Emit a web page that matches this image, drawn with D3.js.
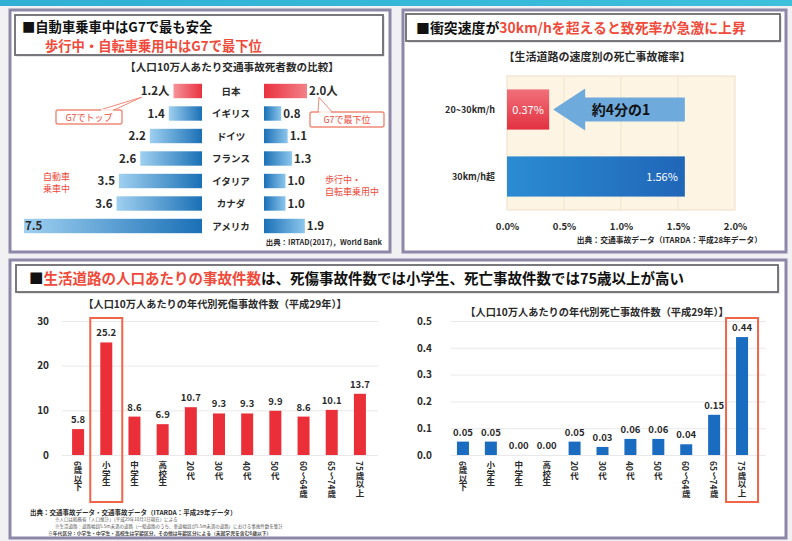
<!DOCTYPE html>
<html><head><meta charset="utf-8">
<script src="https://cdn.jsdelivr.net/npm/d3@7"></script>
<style>
html,body{margin:0;padding:0;background:#f1f1f4;}
svg{display:block;font-family:"Noto Sans CJK JP","Noto Sans",sans-serif;}
</style></head><body>
<svg id="c" width="792" height="541"></svg>
<script>
// ---------- DATA ----------
const countries = ["日本","イギリス","ドイツ","フランス","イタリア","カナダ","アメリカ"];
const carOccupant = [1.2,1.4,2.2,2.6,3.5,3.6,7.5];
const pedCyclist = [2.0,0.8,1.1,1.3,1.0,1.0,1.9];

const speedCats = ["20~30km/h","30km/h超"];
const fatalityRate = [0.37,1.56];
const speedTicks = [0,0.5,1.0,1.5,2.0];

const ageGroups = ["6歳以下","小学生","中学生","高校生","20代","30代","40代","50代","60～64歳","65～74歳","75歳以上"];
const casualtyAccidents = [5.8,25.2,8.6,6.9,10.7,9.3,9.3,9.9,8.6,10.1,13.7];
const fatalAccidents = [0.05,0.05,0.00,0.00,0.05,0.03,0.06,0.06,0.04,0.15,0.44];
const casualtyTicks = [0,10,20,30];
const fatalTicks = [0,0.1,0.2,0.3,0.4,0.5];

// ---------- SETUP ----------
const svg = d3.select("#c");
const defs = svg.append("defs");
function grad(id, x2, y2, stops){
  const g = defs.append("linearGradient").attr("id",id)
    .attr("x1",0).attr("y1",0).attr("x2",x2).attr("y2",y2);
  stops.forEach(s=>g.append("stop").attr("offset",s[0]).attr("stop-color",s[1]));
}
grad("stripe",1,0,[["0%","#2fb0d4"],["100%","#3cc0dc"]]);
grad("redL",1,0,[["0%","#f5939a"],["100%","#e8323f"]]);
grad("blueL",1,0,[["0%","#9fd0f0"],["100%","#1a70b6"]]);
grad("redR",1,0,[["0%","#e8323f"],["100%","#f38088"]]);
grad("blueR",1,0,[["0%","#1a70b6"],["100%","#8cc6ec"]]);
grad("redBar",0,1,[["0%","#f0707a"],["100%","#e23140"]]);
grad("blueBar",1,0,[["0%","#2b8cd2"],["100%","#2066b8"]]);

const RED = "#f04a3a";
const TXT = "#2a2a2a";

svg.append("rect").attr("x",0).attr("y",0).attr("width",792).attr("height",6).attr("fill","url(#stripe)");

function panel(x,y,w,h){
  svg.append("rect").attr("x",x).attr("y",y).attr("width",w).attr("height",h)
    .attr("fill","#fff").attr("stroke","#8e87a8").attr("stroke-width",3);
}
function titleBox(x,y,w,h){
  svg.append("rect").attr("x",x+1.5).attr("y",y+1.5).attr("width",w).attr("height",h).attr("fill","#cfcfd6");
  svg.append("rect").attr("x",x).attr("y",y).attr("width",w).attr("height",h)
    .attr("fill","#fff").attr("stroke","#6b6b70").attr("stroke-width",1.8);
}

// ---------- PANEL 1 ----------
panel(10,10,380,242);
titleBox(15,15,368,40);
svg.append("text").attr("x",22).attr("y",32).attr("font-size",13.3).attr("font-weight","bold")
  .attr("fill","#111").text("■自動車乗車中はG7で最も安全");
svg.append("text").attr("x",45).attr("y",51).attr("font-size",13.3).attr("font-weight","bold")
  .attr("fill",RED).text("歩行中・自転車乗用中はG7で最下位");
svg.append("text").attr("x",232).attr("y",71).attr("text-anchor","middle").attr("font-size",10.6)
  .attr("font-weight","bold").attr("fill",TXT).text("【人口10万人あたり交通事故死者数の比較】");

const cL = 202, cR = 264;
const xL = d3.scaleLinear().domain([0,7.5]).range([0,178]);
const xR = d3.scaleLinear().domain([0,2]).range([0,43]);
const yC = d3.scaleBand().domain(countries).range([79.75,237.25]).paddingInner(0.36).paddingOuter(0.18);
const p1 = svg.append("g");
countries.forEach((c,i)=>{
  const y = yC(c), bh = yC.bandwidth(), cy = y + bh/2;
  const vl = carOccupant[i], vr = pedCyclist[i];
  p1.append("rect").attr("x",cL - xL(vl)).attr("y",y).attr("width",xL(vl)).attr("height",bh)
    .attr("fill", i===0 ? "url(#redL)" : "url(#blueL)");
  p1.append("rect").attr("x",cR).attr("y",y).attr("width",xR(vr)).attr("height",bh)
    .attr("fill", i===0 ? "url(#redR)" : "url(#blueR)");
  const unit = i===0 ? "人" : "";
  let lx = cL - xL(vl) - 4, anchor = "end";
  if (lx < 45) { lx = cL - xL(vl) + 1; anchor = "start"; }
  p1.append("text").attr("x",lx).attr("y",cy+4).attr("text-anchor",anchor).attr("font-size",11.5)
    .attr("font-weight","bold").attr("fill",TXT).text(vl.toFixed(1)+unit);
  p1.append("text").attr("x",cR + xR(vr) + 2).attr("y",cy+4).attr("font-size",11.5)
    .attr("font-weight","bold").attr("fill",TXT).text(vr.toFixed(1)+unit);
  p1.append("text").attr("x",231).attr("y",cy+3.5).attr("text-anchor","middle").attr("font-size",9.5)
    .attr("font-weight","bold").attr("fill",TXT).text(c);
});
// callouts
const jpY = yC("日本") + yC.bandwidth();
function callout(bx,by,bw,bh,label,tipX,tipY,b1,b2){
  p1.append("path").attr("d",`M${b1},${by} L${tipX},${tipY} L${b2},${by}`)
    .attr("fill","#fff").attr("stroke","#f08a78").attr("stroke-width",1);
  p1.append("rect").attr("x",bx).attr("y",by).attr("width",bw).attr("height",bh).attr("rx",2)
    .attr("fill","#fff").attr("stroke","#f08a78").attr("stroke-width",1.4);
  p1.append("path").attr("d",`M${b1+1},${by} L${b2-1},${by}`).attr("stroke","#fff").attr("stroke-width",1.6);
  p1.append("text").attr("x",bx+bw/2).attr("y",by+bh/2+3.5).attr("text-anchor","middle")
    .attr("font-size",9).attr("fill",RED).text(label);
}
callout(56,110,66,14,"G7でトップ", cL - xL(carOccupant[0]) - 32, jpY-1, 100, 114);
callout(310,112,74,15,"G7で最下位", cR + xR(pedCyclist[0]) + 12, jpY-1, 318, 332);
p1.append("text").attr("x",43).attr("y",180).attr("font-size",9).attr("fill",RED).text("自動車");
p1.append("text").attr("x",43).attr("y",192).attr("font-size",9).attr("fill",RED).text("乗車中");
p1.append("text").attr("x",325).attr("y",183).attr("font-size",9).attr("fill",RED).text("歩行中・");
p1.append("text").attr("x",325).attr("y",195).attr("font-size",9).attr("fill",RED).text("自転車乗用中");
p1.append("text").attr("x",382).attr("y",245).attr("text-anchor","end").attr("font-size",7.4)
  .attr("font-weight","bold").attr("fill",TXT).text("出典：IRTAD(2017)，World Bank");

// ---------- PANEL 2 ----------
panel(403,10,383,242);
titleBox(406,14,374,27);
const t2 = svg.append("text").attr("x",416).attr("y",33).attr("font-size",13.9).attr("font-weight","bold");
t2.append("tspan").attr("fill","#111").text("■衝突速度が");
t2.append("tspan").attr("fill",RED).text("30km/hを超えると致死率が急激に上昇");
svg.append("text").attr("x",597).attr("y",61).attr("text-anchor","middle").attr("font-size",11)
  .attr("font-weight","bold").attr("fill",TXT).text("【生活道路の速度別の死亡事故確率】");

const xS = d3.scaleLinear().domain([0,2]).range([507,735]);
const yS = d3.scaleBand().domain(speedCats).range([76,210]).paddingInner(0.4).paddingOuter(0.2);
const p2 = svg.append("g");
p2.append("rect").attr("x",xS(0)).attr("y",76).attr("width",xS(2)-xS(0)).attr("height",134)
  .attr("fill","#fdf4e4").attr("stroke","#ece0c8").attr("stroke-width",1);
p2.selectAll("line.g").data(speedTicks.slice(1,-1)).join("line")
  .attr("x1",d=>xS(d)).attr("x2",d=>xS(d)).attr("y1",76).attr("y2",210)
  .attr("stroke","#f0e4cc").attr("stroke-width",1);
const ax2 = p2.append("g").attr("transform","translate(0,210)")
  .call(d3.axisBottom(xS).tickValues(speedTicks).tickSize(0).tickPadding(13).tickFormat(d=>d.toFixed(1)+"%"));
ax2.select(".domain").remove();
ax2.selectAll("text").attr("font-size",9.5).attr("font-weight","bold").attr("fill",TXT)
  .attr("font-family","'Noto Sans CJK JP',sans-serif");
speedCats.forEach((c,i)=>{
  const y = yS(c), bh = yS.bandwidth(), cy = y+bh/2;
  p2.append("rect").attr("x",xS(0)).attr("y",y).attr("width",xS(fatalityRate[i])-xS(0)).attr("height",bh)
    .attr("fill", i===0 ? "url(#redBar)" : "url(#blueBar)");
  p2.append("text").attr("x",495).attr("y",cy+3).attr("text-anchor","end").attr("font-size",9)
    .attr("font-weight","bold").attr("fill",TXT).text(c);
  const lab = fatalityRate[i].toFixed(2)+"%";
  if (i===0) {
    p2.append("text").attr("x",(xS(0)+xS(fatalityRate[i]))/2).attr("y",cy+4).attr("text-anchor","middle")
      .attr("font-size",11).attr("fill","#fff").text(lab);
  } else {
    p2.append("text").attr("x",xS(fatalityRate[i])-7).attr("y",cy+4).attr("text-anchor","end")
      .attr("font-size",11).attr("fill","#fff").text(lab);
  }
});
{
  const cy = yS(speedCats[0]) + yS.bandwidth()/2;
  const tipX = xS(fatalityRate[0]) + 4, tailX = xS(fatalityRate[1]);
  const hl = 32, hh = 21, bh = 12;
  p2.append("path").attr("d",
    `M${tipX},${cy} L${tipX+hl},${cy-hh} L${tipX+hl},${cy-bh} L${tailX},${cy-bh} L${tailX},${cy+bh} L${tipX+hl},${cy+bh} L${tipX+hl},${cy+hh} Z`)
    .attr("fill","#6eaadb");
  p2.append("text").attr("x",(tipX+tailX)/2+2).attr("y",cy+5).attr("text-anchor","middle")
    .attr("font-size",14).attr("font-weight","bold").attr("fill","#111").text("約4分の1");
}
p2.append("text").attr("x",762).attr("y",243).attr("text-anchor","end").attr("font-size",7.8)
  .attr("font-weight","bold").attr("fill",TXT).text("出典：交通事故データ（ITARDA：平成28年データ）");

// ---------- PANEL 3 ----------
panel(10,260,776,278);
titleBox(16,265,762,27);
const t3 = svg.append("text").attr("x",29).attr("y",284).attr("font-size",14.5).attr("font-weight","bold");
t3.append("tspan").attr("fill","#111").text("■");
t3.append("tspan").attr("fill",RED).text("生活道路の人口あたりの事故件数");
t3.append("tspan").attr("fill","#111").text("は、死傷事故件数では小学生、死亡事故件数では75歳以上が高い");

const p3 = svg.append("g");
function barChart(opts){
  const {x0,x1,gx0,gx1,values,ticks,fmtTick,fmtVal,color,subtitle,subX,subY,hi,padT} = opts;
  const xB = d3.scaleBand().domain(ageGroups).range([x0,x1]);
  const yB = d3.scaleLinear().domain([ticks[0],ticks[ticks.length-1]]).range([455,321]);
  const g = p3.append("g");
  g.append("text").attr("x",subX).attr("y",subY).attr("text-anchor","middle").attr("font-size",10.2)
    .attr("font-weight","bold").attr("fill",TXT).text(subtitle);
  const ax = g.append("g").attr("transform",`translate(${gx0},0)`)
    .call(d3.axisLeft(yB).tickValues(ticks).tickSize(-(gx1-gx0)).tickPadding(padT).tickFormat(fmtTick));
  ax.select(".domain").remove();
  ax.selectAll(".tick line").attr("stroke","#e9e9ec").attr("stroke-width",1);
  ax.selectAll("text").attr("font-size",10).attr("font-weight","bold").attr("fill",TXT)
    .attr("font-family","'Noto Sans CJK JP',sans-serif");
  const bw = 12;
  g.selectAll("rect.b").data(values).join("rect")
    .attr("x",(d,i)=>xB(ageGroups[i]) + xB.bandwidth()/2 - bw/2)
    .attr("y",d=>yB(d)).attr("width",bw).attr("height",d=>yB(0)-yB(d)).attr("fill",color);
  g.selectAll("text.v").data(values).join("text")
    .attr("x",(d,i)=>xB(ageGroups[i]) + xB.bandwidth()/2).attr("y",d=>yB(d)-6)
    .attr("text-anchor","middle").attr("font-size",9.5).attr("font-weight","bold").attr("fill",TXT)
    .text(fmtVal);
  g.selectAll("text.c").data(ageGroups).join("text")
    .attr("x",d=>xB(d) + xB.bandwidth()/2).attr("y",461)
    .style("writing-mode","vertical-rl")
    .attr("font-size",8.5).attr("font-weight","bold").attr("fill",TXT).text(d=>d);
  const hc = xB(hi) + xB.bandwidth()/2;
  g.append("rect").attr("x",hc-16).attr("y",318).attr("width",32).attr("height",184)
    .attr("fill","none").attr("stroke","#f0654a").attr("stroke-width",2);
}
barChart({x0:64,x1:374,gx0:62,gx1:378,values:casualtyAccidents,ticks:casualtyTicks,
  fmtTick:d3.format("d"),fmtVal:d=>d.toFixed(1),color:"#eb2f38",
  subtitle:"【人口10万人あたりの年代別死傷事故件数（平成29年）】",subX:215,subY:308,hi:"小学生",padT:13});
barChart({x0:449,x1:756,gx0:451,gx1:766,values:fatalAccidents,ticks:fatalTicks,
  fmtTick:d3.format(".1f"),fmtVal:d3.format(".2f"),color:"#1a6cc0",
  subtitle:"【人口10万人あたりの年代別死亡事故件数（平成29年）】",subX:597,subY:316,hi:"75歳以上",padT:19});

p3.append("text").attr("x",30).attr("y",515).attr("font-size",6.5).attr("font-weight","bold").attr("fill",TXT)
  .text("出典：交通事故データ・交通事故データ（ITARDA：平成29年データ）");
p3.append("text").attr("x",55).attr("y",521).attr("font-size",4.5).attr("fill","#555")
  .text("※人口は総務省「人口推計」（平成29年10月1日現在）による");
p3.append("text").attr("x",55).attr("y",528).attr("font-size",4.5).attr("fill","#555")
  .text("※生活道路：道路幅員5.5m未満の道路（一般道路のうち、車道幅員が5.5m未満の道路）における事故件数を集計");
p3.append("text").attr("x",48).attr("y",535).attr("font-size",4.8).attr("font-weight","bold").attr("fill","#444")
  .text("※年代区分：小学生・中学生・高校生は学齢区分、その他は年齢区分による（未就学児を含む6歳以下）");
</script>
</body></html>
